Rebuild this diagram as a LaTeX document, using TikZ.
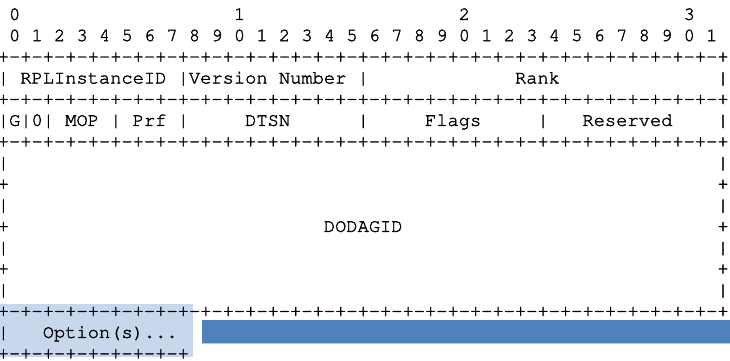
\documentclass[tikz,border=0pt]{standalone}
\usepackage[T1,TU]{fontenc}
\usepackage{tikz}
\newcommand{\pktmono}{\fontencoding{T1}\fontfamily{pcr}\selectfont}
\newcommand{\heavy}[1]{\special{pdf:literal direct 2 Tr 0.16 w}#1\special{pdf:literal direct 0 Tr}}
\definecolor{optfill}{HTML}{C8D7EB}
\definecolor{barblue}{HTML}{4F81BD}
\definecolor{baredge}{HTML}{B4C8E2}
\newcommand{\sk}[1]{\hspace*{\dimexpr #1em*3/5\relax}}
\newcommand{\bits}{+-+-+-+-+-+-+-+-}
\tikzset{
  asciirow/.style = {anchor=base west,inner sep=0pt,text=black,
                     font=\pktmono\fontsize{9.37}{10.6}\selectfont},
  optbox/.style   = {fill=optfill,draw=none},
  optbar/.style   = {fill=barblue,draw=none}
}
\newcommand{\asciiline}[3]{%
  \node[asciirow] (#1) at (-2.6,{19.9+21.2*#2}) {\heavy{#3}};
}

\begin{document}
\begin{tikzpicture}[x=0.5pt,y=-0.5pt]
  \useasboundingbox (0,0) rectangle (730,360);
  % highlighted option area
  \fill[optbox] (0,304) rectangle (193,357);
  \fill[optbar] (202,320) rectangle (730,343);
  \draw[baredge,line width=0.5pt] (202,343.5) -- (730,343.5);
  % header bit numbers
  \asciiline{tens}{0}{\sk{1}0\sk{19}1\sk{19}2\sk{19}3}
  \asciiline{ones}{1}{\sk{1}0 1 2 3 4 5 6 7 8 9 0 1 2 3 4 5 6 7 8 9 0 1 2 3 4 5 6 7 8 9 0 1}
  % fixed fields
  \asciiline{rule1}{2}{\bits\bits\bits\bits+}
  \asciiline{word1}{3}{| RPLInstanceID |Version Number |\sk{13}Rank\sk{14}|}
  \asciiline{rule2}{4}{\bits\bits\bits\bits+}
  \asciiline{word2}{5}{|G|0| MOP | Prf |\sk{5}DTSN\sk{6}|\sk{5}Flags\sk{5}|\sk{3}Reserved\sk{4}|}
  \asciiline{rule3}{6}{\bits\bits\bits\bits+}
  % DODAGID, 128 bits
  \asciiline{dod1}{7}{|\sk{63}|}
  \asciiline{dod2}{8}{+\sk{63}+}
  \asciiline{dod3}{9}{|\sk{63}|}
  \asciiline{dod4}{10}{+\sk{28}DODAGID\sk{28}+}
  \asciiline{dod5}{11}{|\sk{63}|}
  \asciiline{dod6}{12}{+\sk{63}+}
  \asciiline{dod7}{13}{|\sk{63}|}
  \asciiline{rule4}{14}{\bits\bits\bits\bits+}
  % options
  \asciiline{opt}{15}{|\sk{3}Option(s)...}
  \asciiline{rule5}{16}{\bits+}
\end{tikzpicture}
\end{document}
